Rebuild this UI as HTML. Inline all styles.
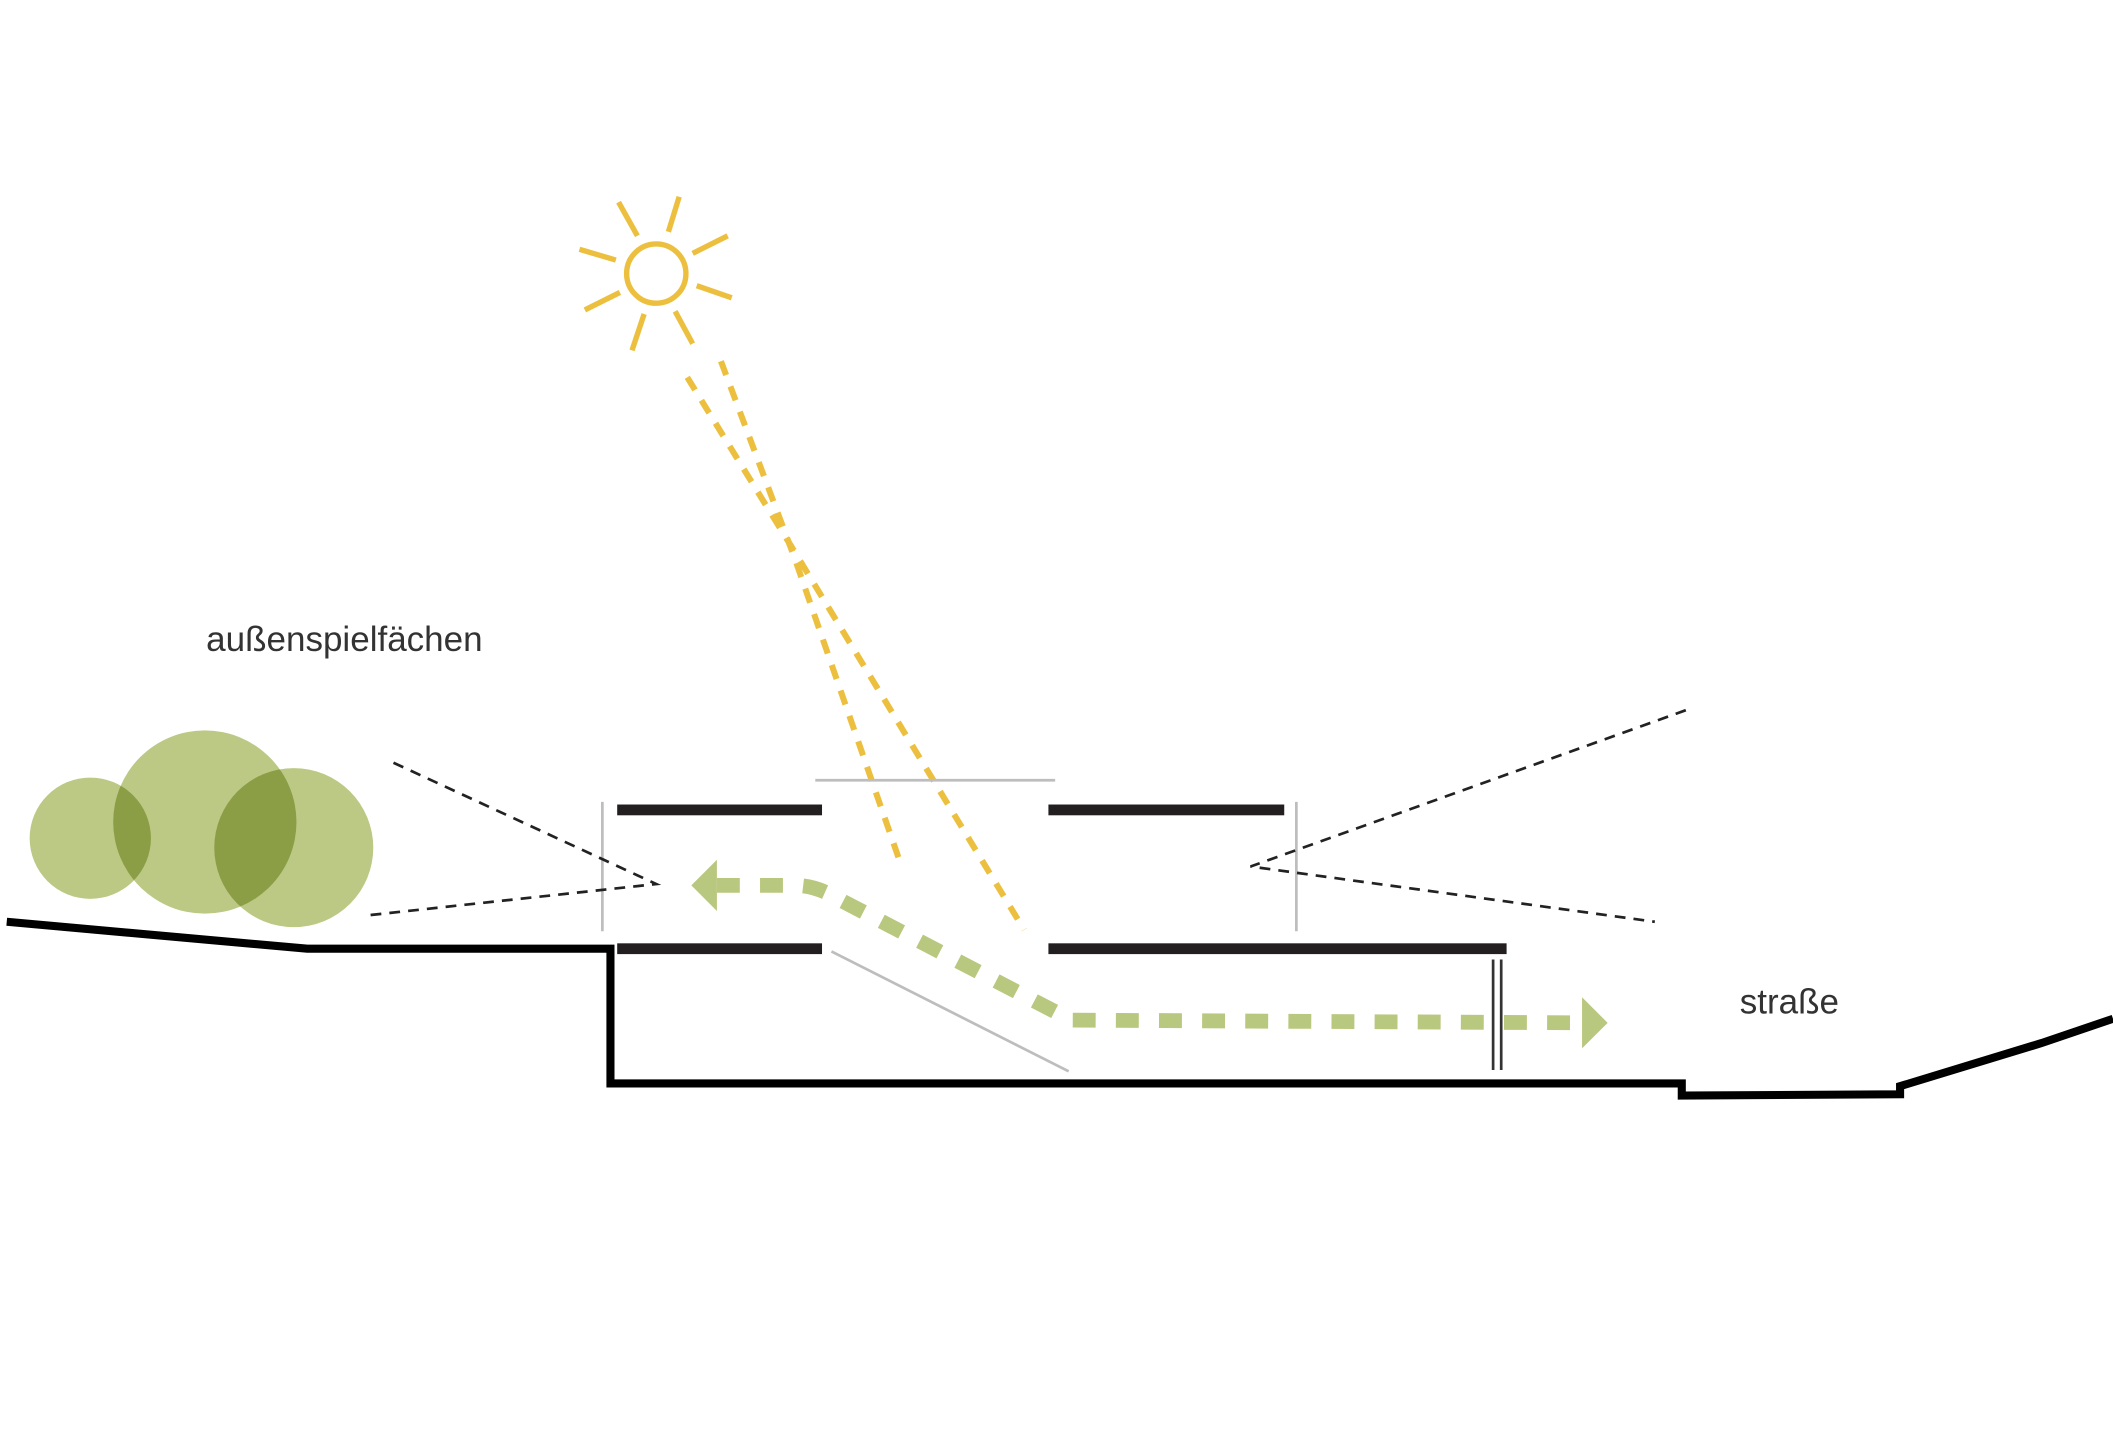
<!DOCTYPE html>
<html><head><meta charset="utf-8"><style>html,body{margin:0;padding:0;background:#fff}svg{display:block}</style></head>
<body>
<svg width="2113" height="1448" viewBox="0 0 1568 1074.5" preserveAspectRatio="none" xmlns="http://www.w3.org/2000/svg">
<rect width="1568" height="1074.5" fill="#fff"/>
<!-- trees -->
<g fill="#bcc984" style="mix-blend-mode:multiply">
<circle cx="67" cy="622" r="45" style="mix-blend-mode:multiply"/>
<circle cx="152" cy="610" r="68" style="mix-blend-mode:multiply"/>
<circle cx="218" cy="629" r="59" style="mix-blend-mode:multiply"/>
</g>
<!-- sun -->
<g stroke="#ecc03e" stroke-width="4" fill="none">
<circle cx="487" cy="203" r="22"/>
<line x1="459" y1="150" x2="473" y2="175"/>
<line x1="504" y1="146" x2="496" y2="172"/>
<line x1="430" y1="185" x2="457" y2="193"/>
<line x1="514" y1="188" x2="540" y2="175"/>
<line x1="434" y1="230" x2="460" y2="217"/>
<line x1="517" y1="212" x2="543" y2="221"/>
<line x1="469" y1="260" x2="478" y2="233"/>
<line x1="501" y1="231" x2="514" y2="255"/>
</g>
<g stroke="#ecc03e" stroke-width="4.5" fill="none" stroke-dasharray="11,9">
<polyline points="535,268 590,415 668,640"/>
<polyline points="510,280 590,410 760,690"/>
</g>
<!-- gray lines -->
<g stroke="#bdbdbd" stroke-width="2">
<line x1="605" y1="579" x2="783" y2="579"/>
<line x1="447" y1="595" x2="447" y2="691"/>
<line x1="962" y1="595" x2="962" y2="691"/>
<line x1="617" y1="706" x2="793" y2="795"/>
</g>
<!-- slabs -->
<g fill="#231f20">
<rect x="458" y="597" width="152" height="8"/>
<rect x="778" y="597" width="175" height="8"/>
<rect x="458" y="700" width="152" height="8"/>
<rect x="778" y="700" width="340" height="8"/>
</g>
<!-- ground -->
<polyline points="5,684 228,704 453,704 453,804 1248,804 1248,813 1410,812 1410,806 1515,774 1568,756" fill="none" stroke="#000" stroke-width="6"/>
<g stroke="#333" stroke-width="2">
<line x1="1108" y1="712" x2="1108" y2="794"/>
<line x1="1114" y1="712" x2="1114" y2="794"/>
</g>
<!-- black dashed view lines -->
<g stroke="#222" stroke-width="2" stroke-dasharray="8,6" fill="none">
<polyline points="292,566 487,656 275,679"/>
<polyline points="1251,527 928,643 1228,684"/>
</g>
<!-- green path -->
<path d="M532,657 L590,657 Q605,657 620,666 L795,757 L1175,759" fill="none" stroke="#b9c87f" stroke-width="11" stroke-dasharray="17,15"/>
<polygon points="513,657 532,638 532,676" fill="#b9c87f"/>
<polygon points="1193,759 1174,740 1174,778" fill="#b9c87f"/>
<!-- text -->
<g font-family="Liberation Sans, DejaVu Sans, sans-serif" font-size="26" fill="#333">
<text x="153" y="483">außenspielfächen</text>
<text x="1291" y="752">straße</text>
</g>
</svg>
</body></html>
